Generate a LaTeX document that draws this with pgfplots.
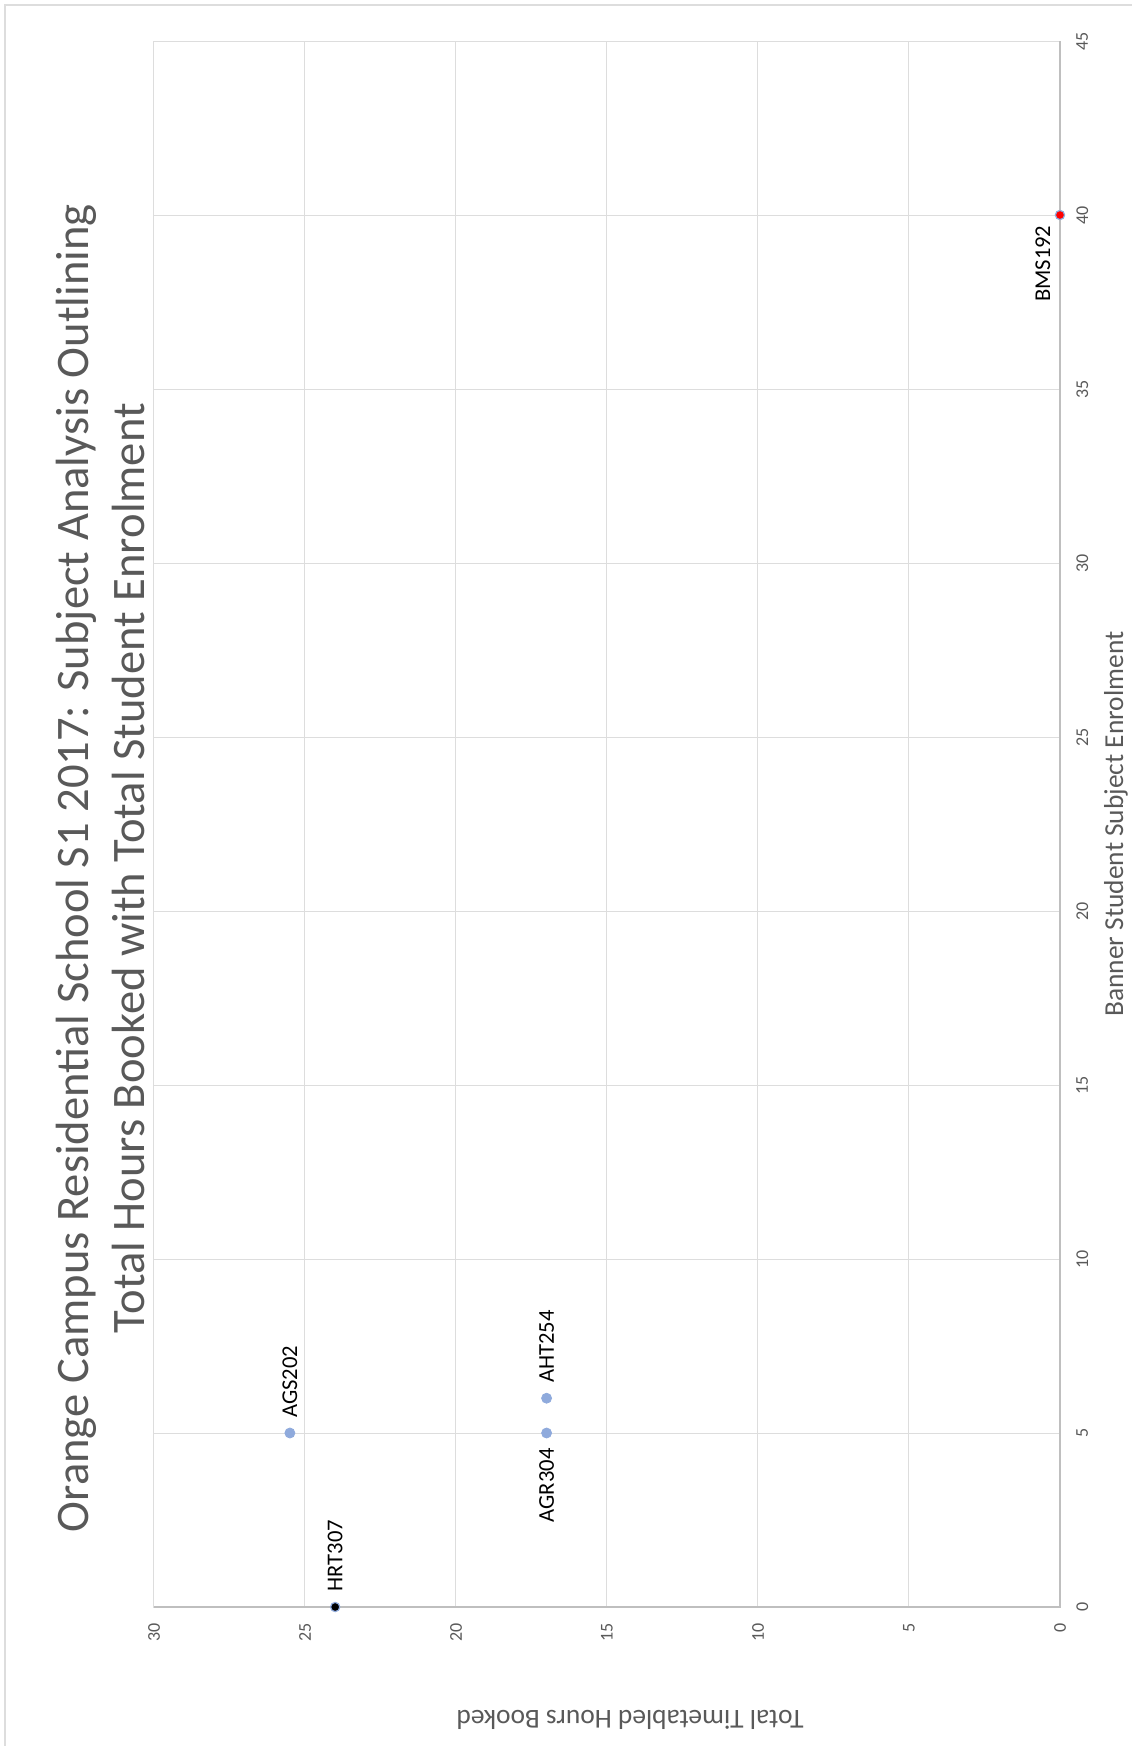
\documentclass[border=0pt]{standalone}
\usepackage{fontspec}
\setmainfont{Carlito}
\usepackage{pgfplots}
\pgfplotsset{compat=1.18}
\definecolor{tickgray}{HTML}{595959}
\definecolor{gridgray}{HTML}{DDDDDD}
\definecolor{axisgray}{HTML}{BFBFBF}
\definecolor{ptblue}{HTML}{8FAADC}
\begin{document}
\begin{tikzpicture}
% outer chart border (top and left visible)
\draw[gridgray, line width=0.75pt] (2.5pt,-873pt) -- (2.5pt,-2.5pt) -- (566pt,-2.5pt);
\begin{axis}[
  at={(77pt,-20.5pt)}, anchor=north west,
  scale only axis, width=453pt, height=783pt,
  x dir=reverse,
  xmin=0, xmax=30, ymin=0, ymax=45,
  xtick={0,5,...,30}, ytick={0,5,...,45},
  grid=major,
  major grid style={draw=gridgray, line width=0.5pt},
  axis line style={draw=gridgray, line width=0.5pt},
  major tick length=0pt,
  yticklabel pos=right,
  /pgf/number format/assume math mode=true,
  tick label style={font=\fontsize{9}{10}\selectfont, text=tickgray, inner sep=0pt},
  xticklabel style={rotate=90, anchor=east},
  yticklabel style={rotate=90, anchor=north},
  xticklabel shift=8pt,
  yticklabel shift=8pt,
  clip=false,
  every node near coord/.append style={font=\fontsize{11.3}{13}\selectfont, text=black, rotate=90, inner sep=0pt},
]
\draw[axisgray, line width=0.7pt] (axis cs:30,0) -- (axis cs:0,0) -- (axis cs:0,45);
% HRT307
\addplot[only marks, mark=*, mark size=2.3pt, mark options={draw=ptblue, fill=black, line width=0.6pt},
  nodes near coords={HRT307}, every node near coord/.append style={anchor=west, inner xsep=7.5pt}]
  coordinates {(24,0)};
% AGS202
\addplot[only marks, mark=*, mark size=2.5pt, mark options={draw=ptblue, fill=ptblue},
  nodes near coords={AGS202}, every node near coord/.append style={anchor=west, inner xsep=7.5pt}]
  coordinates {(25.5,5)};
% AHT254
\addplot[only marks, mark=*, mark size=2.5pt, mark options={draw=ptblue, fill=ptblue},
  nodes near coords={AHT254}, every node near coord/.append style={anchor=west, inner xsep=7.5pt}]
  coordinates {(17,6)};
% AGR304
\addplot[only marks, mark=*, mark size=2.5pt, mark options={draw=ptblue, fill=ptblue},
  nodes near coords={AGR304}, every node near coord/.append style={anchor=east, inner xsep=7.5pt}]
  coordinates {(17,5)};
% BMS192
\addplot[only marks, mark=*, mark size=2.3pt, mark options={draw=ptblue, fill=red, line width=0.6pt},
  nodes near coords={BMS192}, every node near coord/.append style={anchor=south east, inner xsep=5pt, inner ysep=4.5pt}]
  coordinates {(0,40)};
\end{axis}
% chart title
\node[rotate=90, align=center, text=tickgray, font=\fontsize{23.3}{28}\selectfont] at (50pt,-434pt)
  {Orange Campus Residential School S1 2017: Subject Analysis Outlining\\Total Hours Booked with Total Student Enrolment};
% axis titles
\node[rotate=90, text=tickgray, font=\fontsize{13.7}{15}\selectfont] at (558pt,-412pt) {Banner Student Subject Enrolment};
\node[rotate=180, text=tickgray, font=\fontsize{13.7}{15}\selectfont] at (315pt,-860pt) {Total Timetabled Hours Booked};
\pgfresetboundingbox
\path (0pt,0pt) rectangle (566pt,-873pt);
\end{tikzpicture}
\end{document}
